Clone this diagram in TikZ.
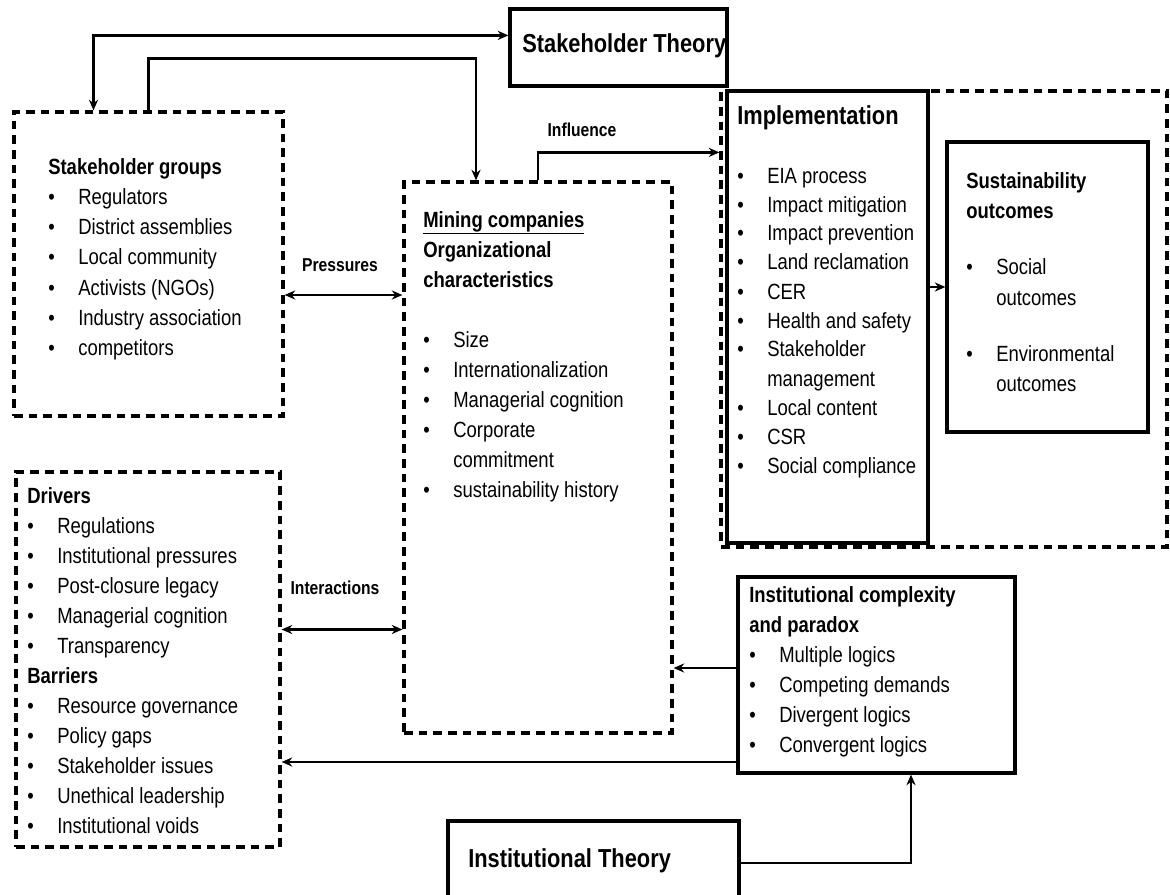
\documentclass[tikz,border=0pt]{standalone}
\usepackage{fontspec}
\setmainfont{Liberation Sans}[FakeStretch=0.84]
\usetikzlibrary{arrows.meta, calc, fit}
\newcommand{\bl}{\makebox[22.5pt][l]{•}}
\newcommand{\ind}{\hspace*{22.5pt}}

\begin{document}
\begin{tikzpicture}[x=0.75pt, y=-0.75pt,
    sbox/.style={draw, line width=2.4pt, inner sep=0pt},
    dbox/.style={sbox, dash pattern=on 6.5pt off 4.5pt},
    txt/.style={anchor=base west, inner sep=0pt, font=\fontsize{16.5}{22.5}\selectfont},
    ttl/.style={anchor=base west, inner sep=0pt, font=\fontsize{19.5}{24}\selectfont\bfseries},
    lbl/.style={anchor=base, inner sep=0pt, font=\fontsize{14}{17}\selectfont\bfseries},
    arr/.style={-{Stealth[length=2.8mm, width=2.4mm]}, line width=2pt},
    darr/.style={{Stealth[length=2.8mm, width=2.4mm]}-{Stealth[length=2.8mm, width=2.4mm]}, line width=2pt}]
  \useasboundingbox (0,0) rectangle (1170,895);
  % boxes
  \node[sbox, fit={(510,9) (727,86)}]    (st) {};
  \node[dbox, fit={(14,112) (283,416)}]  (sg) {};
  \node[dbox, fit={(404,182) (672,733)}] (mc) {};
  \node[dbox, fit={(721,91) (1167,547)}] (io) {};
  \node[sbox, fit={(727,91) (928,543)}]  (im) {};
  \node[sbox, fit={(947,142) (1148,432)}] (so) {};
  \node[dbox, fit={(16,472) (280,847)}]  (dr) {};
  \node[sbox, fit={(738,577) (1015,773)}] (ic) {};
  \node[sbox, fit={(448,821) (739,905)}] (it) {};

  % titles and lists
  \node[ttl] (st-t) at (522,53)  {Stakeholder Theory};
  \node[ttl] (it-t) at (468,867) {Institutional Theory};
  \node[ttl] (im-t) at (737,125) {Implementation};

  \node[txt] (sg-t) at (48,175) {\begin{tabular}[t]{@{}l@{}}
    \textbf{Stakeholder groups}\\ \bl Regulators\\ \bl District assemblies\\
    \bl Local community\\ \bl Activists (NGOs)\\ \bl Industry association\\
    \bl competitors\end{tabular}};

  \node[txt] (mc-t) at (423,227) {\begin{tabular}[t]{@{}l@{}}
    \underline{\textbf{Mining companies}}\\ \textbf{Organizational}\\
    \textbf{characteristics}\\[22.5pt] \bl Size\\ \bl Internationalization\\
    \bl Managerial cognition\\ \bl Corporate\\ \ind commitment\\
    \bl sustainability history\end{tabular}};

  \node[txt, font=\fontsize{16.5}{21.75}\selectfont] (im-l) at (737,183) {\begin{tabular}[t]{@{}l@{}}
    \bl EIA process\\ \bl Impact mitigation\\ \bl Impact prevention\\
    \bl Land reclamation\\ \bl CER\\ \bl Health and safety\\ \bl Stakeholder\\
    \ind management\\ \bl Local content\\ \bl CSR\\ \bl Social compliance\end{tabular}};

  \node[txt] (so-t) at (966,188) {\begin{tabular}[t]{@{}l@{}}
    \textbf{Sustainability}\\ \textbf{outcomes}\\[20.25pt] \bl Social\\
    \ind outcomes\\[20.25pt] \bl Environmental\\ \ind outcomes\end{tabular}};

  \node[txt] (dr-t) at (27,503) {\begin{tabular}[t]{@{}l@{}}
    \textbf{Drivers}\\ \bl Regulations\\ \bl Institutional pressures\\
    \bl Post-closure legacy\\ \bl Managerial cognition\\ \bl Transparency\\
    \textbf{Barriers}\\ \bl Resource governance\\ \bl Policy gaps\\
    \bl Stakeholder issues\\ \bl Unethical leadership\\ \bl Institutional voids\end{tabular}};

  \node[txt] (ic-t) at (749,602) {\begin{tabular}[t]{@{}l@{}}
    \textbf{Institutional complexity}\\ \textbf{and paradox}\\ \bl Multiple logics\\
    \bl Competing demands\\ \bl Divergent logics\\ \bl Convergent logics\end{tabular}};

  % labels
  \node[lbl] (pr-l) at (340,271) {Pressures};
  \node[lbl] (in-l) at (582,137) {Influence};
  \node[lbl] (ia-l) at (335,594) {Interactions};

  % connectors
  \draw[darr] ($(sg.north)+(-55,0)$) |- ($(st.north west)+(0,28)$);
  \draw[arr] (sg.north) -- ++(0,-52) -| ($(mc.north)+(-62,0)$);
  \draw[arr] (mc.north) |- ($(io.north west)+(0,63)$);
  \coordinate (pr) at ($(sg.east)+(0,31)$);
  \draw[darr] (pr) -- (pr -| mc.west);
  \coordinate (ia) at ($(dr.east)+(0,-30)$);
  \draw[darr] (ia) -- (ia -| mc.west);
  \draw[arr] (so.west -| im.east) -- (so.west);
  \coordinate (c1) at ($(ic.west)+(0,-7)$);
  \draw[arr] (c1) -- (c1 -| mc.east);
  \coordinate (c2) at ($(ic.west)+(0,87)$);
  \draw[arr] (c2) -- (c2 -| dr.east);
  \draw[arr] (it.east) -| ($(ic.south)+(34.5,0)$);
\end{tikzpicture}
\end{document}
